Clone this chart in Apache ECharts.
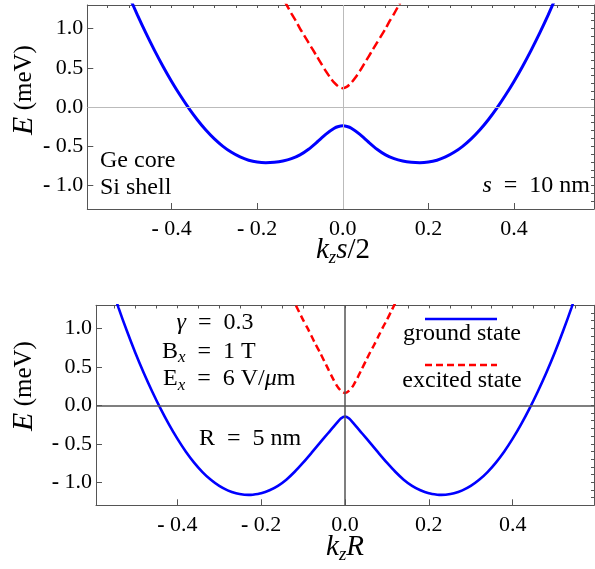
<!DOCTYPE html>
<html>
<head>
<meta charset="utf-8">
<script src="https://cdn.jsdelivr.net/npm/echarts@6/dist/echarts.min.js"></script>
<style>
html,body{margin:0;padding:0;background:#fff;}
#chart{width:595px;height:569px;}
</style>
</head>
<body>
<div id="chart"></div>
<script>
// ---------- data ----------
// top panel: Ge core / Si shell, s = 10 nm
const kTopGround = [-0.50,-0.48,-0.46,-0.44,-0.42,-0.40,-0.38,-0.36,-0.34,-0.32,-0.30,-0.28,-0.26,-0.24,-0.22,-0.20,-0.18,-0.16,-0.14,-0.12,-0.10,-0.08,-0.06,-0.04,-0.02,-0.01,0,0.01,0.02,0.04,0.06,0.08,0.10,0.12,0.14,0.16,0.18,0.20,0.22,0.24,0.26,0.28,0.30,0.32,0.34,0.36,0.38,0.40,0.42,0.44,0.46,0.48,0.50];
const eTopGround = [1.421,1.174,0.941,0.722,0.517,0.326,0.149,-0.014,-0.162,-0.293,-0.406,-0.501,-0.578,-0.637,-0.678,-0.702,-0.71,-0.705,-0.689,-0.659,-0.61,-0.538,-0.446,-0.348,-0.27,-0.248,-0.24,-0.248,-0.27,-0.348,-0.446,-0.538,-0.61,-0.659,-0.689,-0.705,-0.71,-0.702,-0.678,-0.637,-0.578,-0.501,-0.406,-0.293,-0.162,-0.014,0.149,0.326,0.517,0.722,0.941,1.174,1.421];
const kTopExcited = [-0.15,-0.14,-0.13,-0.12,-0.11,-0.10,-0.09,-0.08,-0.07,-0.06,-0.05,-0.04,-0.03,-0.02,-0.01,0,0.01,0.02,0.03,0.04,0.05,0.06,0.07,0.08,0.09,0.10,0.11,0.12,0.13,0.14,0.15];
const eTopExcited = [1.49,1.39,1.29,1.19,1.10,1.00,0.91,0.82,0.73,0.64,0.55,0.46,0.38,0.31,0.26,0.24,0.26,0.31,0.38,0.46,0.55,0.64,0.73,0.82,0.91,1.00,1.10,1.19,1.29,1.39,1.49];

// bottom panel: gamma = 0.3, Bx = 1 T, Ex = 6 V/um, R = 5 nm
const kBotGround = [-0.56,-0.54,-0.52,-0.50,-0.48,-0.46,-0.44,-0.42,-0.40,-0.38,-0.36,-0.34,-0.32,-0.30,-0.28,-0.26,-0.24,-0.23,-0.22,-0.20,-0.18,-0.16,-0.14,-0.12,-0.10,-0.08,-0.06,-0.04,-0.02,-0.01,0,0.01,0.02,0.04,0.06,0.08,0.10,0.12,0.14,0.16,0.18,0.20,0.22,0.23,0.24,0.26,0.28,0.30,0.32,0.34,0.36,0.38,0.40,0.42,0.44,0.46,0.48,0.50,0.52,0.54,0.56];
const eBotGround = [1.59,1.264,0.962,0.68,0.42,0.18,-0.043,-0.248,-0.434,-0.60,-0.745,-0.868,-0.969,-1.048,-1.106,-1.144,-1.163,-1.165,-1.162,-1.144,-1.105,-1.047,-0.967,-0.864,-0.746,-0.619,-0.489,-0.36,-0.232,-0.173,-0.145,-0.173,-0.232,-0.36,-0.489,-0.619,-0.746,-0.864,-0.967,-1.047,-1.105,-1.144,-1.162,-1.165,-1.163,-1.144,-1.106,-1.048,-0.969,-0.868,-0.745,-0.60,-0.434,-0.248,-0.043,0.18,0.42,0.68,0.962,1.264,1.59];
const kBotExcited = [-0.14,-0.13,-0.12,-0.11,-0.10,-0.09,-0.08,-0.07,-0.06,-0.05,-0.04,-0.03,-0.02,-0.01,0,0.01,0.02,0.03,0.04,0.05,0.06,0.07,0.08,0.09,0.10,0.11,0.12,0.13,0.14];
const eBotExcited = [1.55,1.44,1.33,1.22,1.11,1.01,0.90,0.79,0.69,0.58,0.47,0.36,0.26,0.19,0.16,0.19,0.26,0.36,0.47,0.58,0.69,0.79,0.90,1.01,1.11,1.22,1.33,1.44,1.55];

// tick values
const xMajorTicks = [-0.4,-0.2,0,0.2,0.4];
const xMinorTicks = [-0.55,-0.5,-0.45,-0.35,-0.3,-0.25,-0.15,-0.1,-0.05,0.05,0.1,0.15,0.25,0.3,0.35,0.45,0.5,0.55];
const xAllTicks = [-0.55,-0.5,-0.45,-0.4,-0.35,-0.3,-0.25,-0.2,-0.15,-0.1,-0.05,0,0.05,0.1,0.15,0.2,0.25,0.3,0.35,0.4,0.45,0.5,0.55];
const yMajorTicks = [-1,-0.5,0,0.5,1];
const yMinorTicks = [-1.2,-1.1,-0.9,-0.8,-0.7,-0.6,-0.4,-0.3,-0.2,-0.1,0.1,0.2,0.3,0.4,0.6,0.7,0.8,0.9,1.1,1.2];
const yAllTicks = [-1.2,-1.1,-1,-0.9,-0.8,-0.7,-0.6,-0.5,-0.4,-0.3,-0.2,-0.1,0,0.1,0.2,0.3,0.4,0.5,0.6,0.7,0.8,0.9,1,1.1,1.2];

const legendNames = ['ground state','excited state'];

// ---------- helpers ----------
const FONT = 'Liberation Serif';
const FRAME = '#555';
function pairs(ks, es){ return ks.map((k,i)=>[k, es[i]]); }
function fmt(v){
  if (Math.abs(v) < 1e-9) return '0.0';
  return v < 0 ? '{m|-} ' + Math.abs(v).toFixed(1) : v.toFixed(1);
}
const labelRich = { m: { fontFamily: FONT, fontSize: 22, fontWeight: 'bold', color: '#000' } };

function xAxes(grid, min, max){
  const base = { type:'value', gridIndex:grid, min:min, max:max, splitLine:{show:false},
    axisLine:{show:true, onZero:false, lineStyle:{color:FRAME, width:1}} };
  return [
    Object.assign({}, base, { position:'bottom',
      axisTick:{show:true, inside:true, length:6, customValues:xMajorTicks, lineStyle:{color:FRAME}},
      axisLabel:{show:true, customValues:xMajorTicks, formatter:fmt, margin:9, fontFamily:FONT, fontSize:22, color:'#000', rich:labelRich} }),
    Object.assign({}, base, { position:'top',
      axisTick:{show:true, inside:true, length:3, customValues:xAllTicks, lineStyle:{color:FRAME}},
      axisLabel:{show:false} }),
    Object.assign({}, base, { position:'top', axisLine:{show:false, onZero:false},
      axisTick:{show:true, inside:true, length:3, customValues:xMinorTicks, lineStyle:{color:FRAME}},
      axisLabel:{show:false} })
  ];
}
function yAxes(grid, min, max, rightTicks, rightLen){
  const base = { type:'value', gridIndex:grid, min:min, max:max, splitLine:{show:false},
    axisLine:{show:true, onZero:false, lineStyle:{color:FRAME, width:1}} };
  return [
    Object.assign({}, base, { position:'left',
      axisTick:{show:true, inside:true, length:6, customValues:yMajorTicks, lineStyle:{color:FRAME}},
      axisLabel:{show:true, customValues:yMajorTicks, formatter:fmt, margin:4, fontFamily:FONT, fontSize:22, color:'#000', rich:labelRich} }),
    Object.assign({}, base, { position:'right',
      axisTick:{show:true, inside:true, length:rightLen, customValues:rightTicks, lineStyle:{color:FRAME}},
      axisLabel:{show:false} }),
    Object.assign({}, base, { position:'right', axisLine:{show:false, onZero:false},
      axisTick:{show:true, inside:true, length:3, customValues:yMinorTicks, lineStyle:{color:FRAME}},
      axisLabel:{show:false} })
  ];
}
function zeroLines(xi, yi, color, width){
  return { type:'line', xAxisIndex:xi, yAxisIndex:yi, data:[], z:1, silent:true,
    markLine:{ silent:true, symbol:['none','none'], label:{show:false},
      lineStyle:{color:color, width:width, type:'solid'},
      emphasis:{disabled:true},
      data:[{xAxis:0},{yAxis:0}] } };
}

const titleRich = {
  E:{ fontFamily:FONT, fontStyle:'italic', fontSize:30, lineHeight:34, color:'#000' },
  i:{ fontFamily:FONT, fontStyle:'italic', fontSize:29, lineHeight:34, color:'#000' },
  n:{ fontFamily:FONT, fontSize:29, lineHeight:34, color:'#000' },
  m:{ fontFamily:FONT, fontSize:25, lineHeight:34, color:'#000' },
  s:{ fontFamily:FONT, fontStyle:'italic', fontSize:19, lineHeight:16, verticalAlign:'bottom', color:'#000' }
};
const annRich = {
  n:{ fontFamily:FONT, fontSize:24, lineHeight:30, color:'#000' },
  i:{ fontFamily:FONT, fontStyle:'italic', fontSize:24, lineHeight:30, color:'#000' },
  s:{ fontFamily:FONT, fontStyle:'italic', fontSize:17, lineHeight:14, verticalAlign:'bottom', color:'#000' }
};
function txt(x, y, text, align, rich, rot){
  return { type:'text', x:x, y:y, rotation:rot||0, z:10, silent:true,
    style:{ text:text, align:align, verticalAlign:'middle', rich:rich||annRich,
      fontFamily:FONT, fontSize:24, fill:'#000' } };
}

const chart = echarts.init(document.getElementById('chart'), null, {renderer:'canvas'});
const option = {
  animation:false,
  backgroundColor:'#fff',
  grid:[
    {left:87.3, top:5, width:506.7, height:204},
    {left:96, top:305.3, width:498, height:200}
  ],
  xAxis: [].concat(xAxes(0, -0.597, 0.587), xAxes(1, -0.594, 0.594)),
  yAxis: [].concat(yAxes(0, -1.3, 1.3, yMajorTicks, 3), yAxes(1, -1.3, 1.3, yAllTicks, 3)),
  series:[
    zeroLines(0, 0, '#bbbbbb', 1),
    { name:legendNames[0], type:'line', xAxisIndex:0, yAxisIndex:0, z:3, smooth:0.25, symbol:'none',
      data:pairs(kTopGround, eTopGround), lineStyle:{color:'#0000ff', width:3} },
    { name:legendNames[1], type:'line', xAxisIndex:0, yAxisIndex:0, z:3, smooth:0.25, symbol:'none',
      data:pairs(kTopExcited, eTopExcited), lineStyle:{color:'#ff0000', width:2.5, type:[9,4]} },
    zeroLines(3, 3, '#555555', 1.5),
    { name:legendNames[0], type:'line', xAxisIndex:3, yAxisIndex:3, z:3, smooth:0.25, symbol:'none',
      data:pairs(kBotGround, eBotGround), lineStyle:{color:'#0000ff', width:2.6} },
    { name:legendNames[1], type:'line', xAxisIndex:3, yAxisIndex:3, z:3, smooth:0.25, symbol:'none',
      data:pairs(kBotExcited, eBotExcited), lineStyle:{color:'#ff0000', width:2.5, type:[7,4]} }
  ],
  graphic:[
    // axis titles
    txt(24, 90, '{E|E}{m| (meV)}', 'center', titleRich, Math.PI/2),
    txt(24, 386, '{E|E}{m| (meV)}', 'center', titleRich, Math.PI/2),
    txt(343, 250, '{i|k}{s|z}{i|s}{n|/2}', 'center', titleRich),
    txt(345, 547, '{i|k}{s|z}{i|R}', 'center', titleRich),
    // top annotations
    txt(100, 161, '{n|Ge core}', 'left'),
    txt(100, 187.5, '{n|Si shell}', 'left'),
    txt(590, 186, '{i|s}{n|  =  10 nm}', 'right'),
    // bottom annotations
    txt(215, 323, '{i|γ}{n|  =  0.3}', 'center'),
    txt(162, 351.5, '{n|B}{s|x}{n|  =  1 T}', 'left'),
    txt(163, 379, '{n|E}{s|x}{n|  =  6 V/}{i|μ}{n|m}', 'left'),
    txt(199, 439, '{n|R  =  5 nm}', 'left'),
    // legend
    { type:'line', z:10, silent:true, shape:{x1:425, y1:319, x2:497, y2:319}, style:{stroke:'#0000ff', lineWidth:2.6} },
    { type:'line', z:10, silent:true, shape:{x1:425, y1:365, x2:497, y2:365}, style:{stroke:'#ff0000', lineWidth:2.5, lineDash:[7,4]} },
    txt(462, 334, '{n|' + legendNames[0] + '}', 'center'),
    txt(462, 380.5, '{n|' + legendNames[1] + '}', 'center')
  ]
};
chart.setOption(option);
</script>
</body>
</html>
